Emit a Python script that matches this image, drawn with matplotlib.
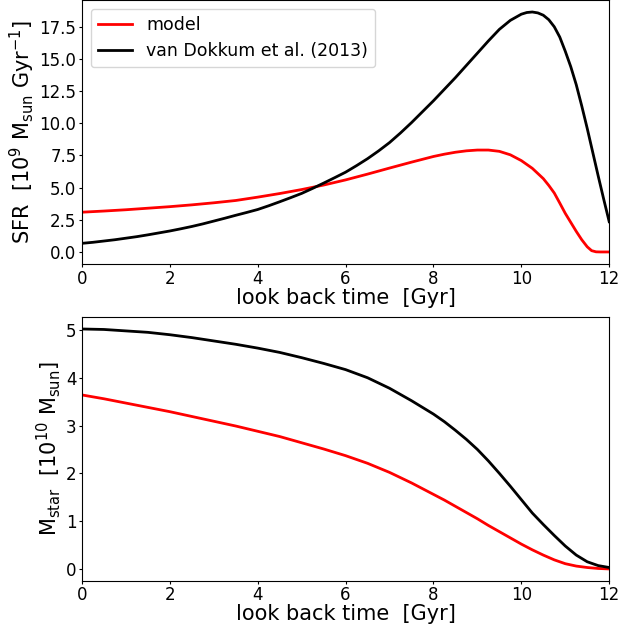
import numpy as np
import matplotlib
matplotlib.use('Agg')
import matplotlib.pyplot as plt

# SFR [1e9 Msun / Gyr] vs look back time [Gyr]
t_sfr_model = [0, 0.5, 1, 1.5, 2, 2.5, 3, 3.5, 4, 4.5, 5, 5.5, 6, 6.5, 7, 7.5, 8,
               8.25, 8.5, 8.75, 9, 9.25, 9.5, 9.75, 10, 10.25, 10.5, 10.625, 10.75,
               10.875, 11, 11.125, 11.25, 11.375, 11.5, 11.6, 11.7, 11.8, 12]
sfr_model = [3.09, 3.18, 3.28, 3.40, 3.52, 3.66, 3.82, 4.00, 4.26, 4.54, 4.85, 5.20,
             5.60, 6.05, 6.52, 6.98, 7.42, 7.60, 7.75, 7.86, 7.92, 7.92, 7.82, 7.55,
             7.10, 6.50, 5.70, 5.17, 4.58, 3.80, 3.00, 2.30, 1.60, 0.95, 0.40, 0.10,
             0.01, 0.0, 0.0]

t_sfr_vd13 = [0, 0.25, 0.5, 0.75, 1, 1.25, 1.5, 1.75, 2, 2.25, 2.5, 2.75, 3, 3.25,
              3.5, 3.75, 4, 4.25, 4.5, 4.75, 5, 5.25, 5.5, 5.75, 6, 6.25, 6.5, 6.75,
              7, 7.25, 7.5, 7.75, 8, 8.25, 8.5, 8.75, 9, 9.25, 9.5, 9.75, 10, 10.125,
              10.25, 10.375, 10.5, 10.625, 10.75, 10.875, 11, 11.125, 11.25, 11.375,
              11.5, 11.625, 11.75, 11.875, 12]
sfr_vd13 = [0.67, 0.75, 0.85, 0.95, 1.07, 1.19, 1.33, 1.48, 1.63, 1.80, 1.98, 2.18,
            2.40, 2.62, 2.85, 3.07, 3.30, 3.59, 3.90, 4.22, 4.55, 4.94, 5.35, 5.77,
            6.20, 6.71, 7.25, 7.85, 8.50, 9.25, 10.05, 10.90, 11.75, 12.65, 13.55,
            14.50, 15.45, 16.40, 17.30, 18.00, 18.48, 18.61, 18.65, 18.58, 18.40,
            18.05, 17.50, 16.70, 15.60, 14.40, 13.00, 11.35, 9.60, 7.75, 5.90, 4.10,
            2.35]

# stellar mass [1e10 Msun] vs look back time [Gyr]
t_m = [0, 0.5, 1, 1.5, 2, 2.5, 3, 3.5, 4, 4.5, 5, 5.5, 6, 6.5, 7, 7.5, 8, 8.25, 8.5,
       8.75, 9, 9.25, 9.5, 9.75, 10, 10.25, 10.5, 10.75, 11, 11.25, 11.5, 11.75, 12]
mstar_model = [3.64, 3.56, 3.47, 3.38, 3.29, 3.19, 3.09, 2.99, 2.88, 2.77, 2.64, 2.51,
               2.37, 2.21, 2.02, 1.80, 1.56, 1.44, 1.31, 1.18, 1.05, 0.91, 0.78, 0.65,
               0.52, 0.40, 0.29, 0.19, 0.11, 0.06, 0.03, 0.01, 0.0]
mstar_vd13 = [5.02, 5.01, 4.98, 4.95, 4.90, 4.84, 4.77, 4.70, 4.62, 4.53, 4.42, 4.30,
              4.17, 4.00, 3.78, 3.52, 3.24, 3.08, 2.90, 2.71, 2.50, 2.26, 2.00, 1.73,
              1.45, 1.17, 0.93, 0.70, 0.48, 0.29, 0.15, 0.07, 0.03]

sfr_ticks = [0.0, 2.5, 5.0, 7.5, 10.0, 12.5, 15.0, 17.5]

plt.rcParams['font.size'] = 12

fig = plt.figure(figsize=(6.21, 6.24), dpi=100)
ax1 = fig.add_axes([0.132, 0.577, 0.849, 0.423])
ax2 = fig.add_axes([0.132, 0.069, 0.849, 0.423])

ax1.plot(t_sfr_model, sfr_model, color='red', lw=2, label='model')
ax1.plot(t_sfr_vd13, sfr_vd13, color='black', lw=2, label='van Dokkum et al. (2013)')
ax1.set_xlim(0, 12)
ax1.set_yticks(sfr_ticks)
ax1.set_xlabel('look back time  [Gyr]', fontsize=15, labelpad=0)
ax1.set_ylabel(r'SFR  [10$^9$ M$_{\rm sun}$ Gyr$^{-1}$]', fontsize=15, labelpad=2)
ax1.legend(loc='upper left', fontsize=12.5)

ax2.plot(t_m, mstar_model, color='red', lw=2)
ax2.plot(t_m, mstar_vd13, color='black', lw=2)
ax2.set_xlim(0, 12)
ax2.set_xlabel('look back time  [Gyr]', fontsize=15, labelpad=0)
ax2.set_ylabel(r'M$_{\rm star}$  [10$^{10}$ M$_{\rm sun}$]', fontsize=15, labelpad=2)

for ax in (ax1, ax2):
    ax.tick_params(labelsize=12, length=2, pad=2)

fig.savefig('out.png', dpi=100)
